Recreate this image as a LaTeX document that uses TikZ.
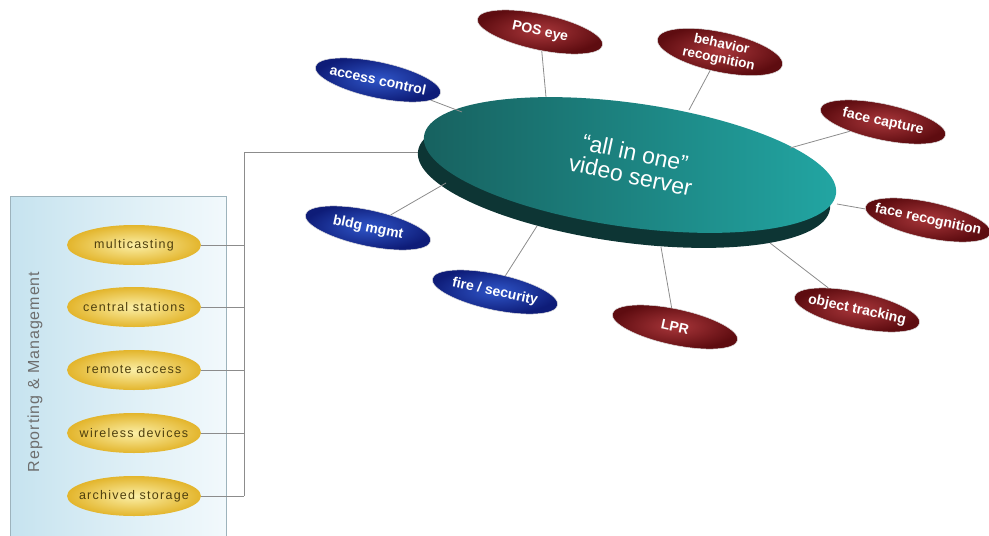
\documentclass[tikz,border=0pt]{standalone}
\usepackage{fontspec}
\setmainfont{Liberation Sans}
\usetikzlibrary{shapes.geometric}
\definecolor{blueA}{HTML}{0E1C78}
\definecolor{blueB}{HTML}{2F55C8}
\definecolor{redA}{HTML}{5E0C10}
\definecolor{redB}{HTML}{A8363A}
\definecolor{yelA}{HTML}{E3B52C}
\definecolor{yelB}{HTML}{FBEFA6}
\definecolor{ytext}{HTML}{4E3F0E}
\definecolor{tealL}{HTML}{17615F}
\definecolor{tealR}{HTML}{22A6A3}
\definecolor{tealDark}{HTML}{0D3534}
\definecolor{linkgray}{HTML}{8C8C8C}
\definecolor{panelA}{HTML}{C6E3EF}
\definecolor{panelB}{HTML}{F2F9FC}
\definecolor{panelEdge}{HTML}{9DB3BC}
\definecolor{labelgray}{HTML}{6E6E6E}
\tikzset{
  sat/.style={ellipse, minimum width=128pt, minimum height=36pt, inner sep=0pt,
    rotate=-12, draw=white!75!gray, line width=0.5pt},
  bluesat/.style={sat, inner color=blueB, outer color=blueA},
  redsat/.style={sat, inner color=redB, outer color=redA},
  sattext/.style={rotate=-12, align=center, text=white, inner sep=0pt,
    font=\bfseries\fontsize{14}{16}\selectfont},
  ybox/.style={ellipse, minimum width=134pt, minimum height=40pt, inner sep=0pt,
    inner color=yelB, outer color=yelA},
  ytxt/.style={text=ytext, inner sep=0pt,
    font=\addfontfeature{LetterSpace=10}\fontsize{12.5}{12.5}\selectfont},
  link/.style={draw=linkgray, line width=0.8pt},
}
\begin{document}
\begin{tikzpicture}[x=1pt,y=-1pt]
\useasboundingbox (0,0) rectangle (989,536);
\clip (0,0) rectangle (989,536);
% left panel
\path[draw=panelEdge, line width=0.8pt, left color=panelA, right color=panelB]
  (10,196) rectangle (226,540);
\node[rotate=90, text=labelgray, font=\addfontfeature{LetterSpace=6}\fontsize{16}{16}\selectfont] (rm) at (35,372) {Reporting \& Management};
\foreach \i/\yy/\t in {1/245/multicasting, 2/307/central stations, 3/370/remote access, 4/433/wireless devices, 5/496/archived storage} {
  \node[ybox] (y\i) at (134,\yy) {};
  \node[ytxt] (y\i-t) at (y\i) {\t};
}
% bus
\coordinate (bt) at (244,152);
\coordinate (bb) at (244,496);
\coordinate (sl) at (424,152);
\draw[link] (bb) -- (bt) -- (sl);
\foreach \i in {1,...,5} { \draw[link] (y\i.east) -- (y\i.east -| bt); }
% server
\begin{scope}[shift={(624,180)}, rotate=-8]
  \path[fill=tealDark] (0,0) ellipse[x radius=208, y radius=62];
\end{scope}
\begin{scope}[shift={(630,165)}, rotate=-8]
  \path[left color=tealL, right color=tealR] (0,0) ellipse[x radius=208, y radius=62];
\end{scope}
\node[rotate=-12, text=white, align=center, font=\fontsize{23}{23}\selectfont] (server) at (633,164) {``all in one''\\video server};
% satellites
\node[bluesat] (acc) at (378,80) {};
\node[redsat] (pos) at (540,32) {};
\node[redsat, minimum height=40pt] (beh) at (720,52) {};
\node[redsat] (fcap) at (883,122) {};
\node[redsat] (frec) at (928,220) {};
\node[redsat] (obj) at (857,310) {};
\node[redsat] (lpr) at (675,327) {};
\node[bluesat] (fire) at (495,292) {};
\node[bluesat] (bldg) at (368,228) {};
\node[sattext] (acc-t) at (acc) {access control};
\node[sattext] (pos-t) at (pos) {POS eye};
\node[sattext, font=\bfseries\fontsize{13.5}{15}\selectfont] (beh-t) at (beh) {behavior\\recognition};
\node[sattext] (fcap-t) at (fcap) {face capture};
\node[sattext] (frec-t) at (frec) {face recognition};
\node[sattext] (obj-t) at (obj) {object tracking};
\node[sattext] (lpr-t) at (lpr) {LPR};
\node[sattext] (fire-t) at (fire) {fire / security};
\node[sattext] (bldg-t) at (bldg) {bldg mgmt};
% rim points
\coordinate (r-acc) at (462,112);
\coordinate (r-pos) at (546,97);
\coordinate (r-beh) at (689,110);
\coordinate (r-fcap) at (790,148);
\coordinate (r-frec) at (837,204);
\coordinate (r-obj) at (770,243);
\coordinate (r-lpr) at (661,247);
\coordinate (r-fire) at (537,226);
\coordinate (r-bldg) at (446,183);
\foreach \s in {acc,pos,beh,fcap,frec,obj,lpr,fire,bldg} { \draw[link] (\s) -- (r-\s); }
\end{tikzpicture}
\end{document}
